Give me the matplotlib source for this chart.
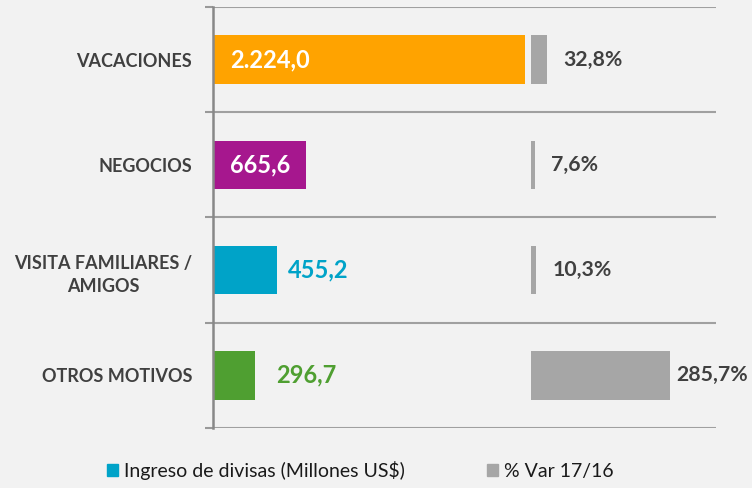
import matplotlib
matplotlib.use("Agg")
import matplotlib.pyplot as plt
from matplotlib.patches import Patch

# datos
categorias = ["VACACIONES", "NEGOCIOS", "VISITA FAMILIARES /\nAMIGOS", "OTROS MOTIVOS"]
ingreso = [2224.0, 665.6, 455.2, 296.7]
var_pct = [32.8, 7.6, 10.3, 285.7]
ingreso_txt = ["2.224,0", "665,6", "455,2", "296,7"]
var_txt = ["32,8%", "7,6%", "10,3%", "285,7%"]
serie_nombres = ["Ingreso de divisas (Millones US$)", "% Var 17/16"]

# estilo
colores = ["#FFA300", "#A6178E", "#00A3C8", "#4F9F31"]
gris = "#A6A6A6"
fondo = "#F2F2F2"
texto = "#404040"
etiqueta_dentro = [True, True, False, False]
pad_ing = [17, 17, 11, 21]  # px
pad_pct = [16, 16, 17, 6]  # px
PX = 0.72  # pt por px a 100 dpi

plt.rcParams["font.family"] = ["Lato", "DejaVu Sans"]

fig = plt.figure(figsize=(7.52, 4.88), dpi=100, facecolor=fondo)
ax = fig.add_axes([213 / 752, 1 - 428 / 488, 503 / 752, 421 / 488])
ax.set_facecolor(fondo)

y = list(range(len(categorias)))
alto = 0.46

ax.barh(y, ingreso, height=alto, color=colores)
ax.set_xlim(0, 3585)
ax.set_ylim(len(categorias) - 0.5, -0.5)

# segunda escala para la variacion %
ax2 = ax.twiny()
ax2.set_xlim(-653, 380)
ax2.set_ylim(len(categorias) - 0.5, -0.5)
ax2.barh(y, var_pct, height=alto, color=gris)
ax2.axis("off")

# ejes / grilla
for s in ["top", "right", "bottom"]:
    ax.spines[s].set_visible(False)
ax.spines["left"].set_color("#888888")
ax.spines["left"].set_linewidth(1.8)
ax.set_xticks([])
ax.set_yticks(y)
ax.set_yticklabels(categorias, fontsize=13, fontweight="bold", color=texto,
                   multialignment="center", linespacing=1.45)
ax.tick_params(axis="y", which="major", length=0, pad=15)
bordes = [i - 0.5 for i in range(len(categorias) + 1)]
ax.set_yticks(bordes, minor=True)
ax.tick_params(axis="y", which="minor", length=6, width=1.5, color="#999999")
ax.grid(True, axis="y", which="minor", color="#A0A0A0", linewidth=1.5)
ax.set_axisbelow(True)

# etiquetas de valores
for i, (v, t) in enumerate(zip(ingreso, ingreso_txt)):
    if etiqueta_dentro[i]:
        ax.annotate(t, (0, i), xytext=(pad_ing[i] * PX, 0), textcoords="offset points",
                    va="center", ha="left", color="white", fontsize=17, fontweight="bold")
    else:
        ax.annotate(t, (v, i), xytext=(pad_ing[i] * PX, 0), textcoords="offset points",
                    va="center", ha="left", color=colores[i], fontsize=17, fontweight="bold")

for i, (v, t) in enumerate(zip(var_pct, var_txt)):
    ax2.annotate(t, (v, i), xytext=(pad_pct[i] * PX, 0), textcoords="offset points",
                 va="center", ha="left", color=texto, fontsize=15.3, fontweight="bold",
                 annotation_clip=False)

handles = [Patch(color=colores[2]), Patch(color=gris)]
fig.legend(handles, serie_nombres, loc="center left", bbox_to_anchor=(107 / 752, 1 - 470 / 488),
           ncol=2, frameon=False, fontsize=14, handlelength=0.56, handleheight=0.56,
           handletextpad=0.3, columnspacing=4.25, labelcolor="#1A1A1A",
           borderpad=0, borderaxespad=0)

fig.savefig("out.png", dpi=100, facecolor=fondo)
